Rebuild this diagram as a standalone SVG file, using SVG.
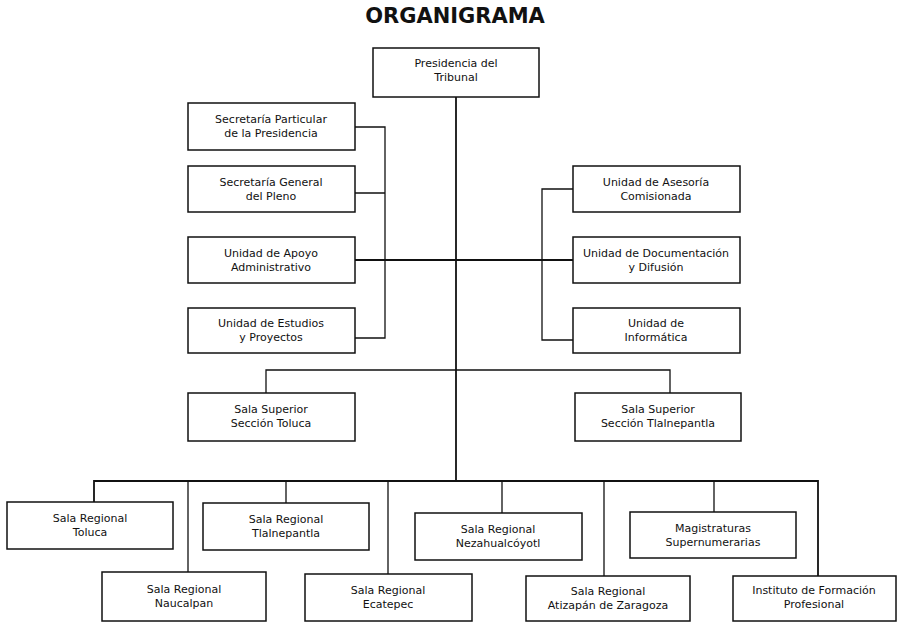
<svg xmlns="http://www.w3.org/2000/svg" width="900" height="623" viewBox="0 0 900 623">
<style>
.box{fill:#fff;stroke:#111;stroke-width:1.5}
.t{font-family:"DejaVu Sans","Liberation Sans",sans-serif;font-size:11px;fill:#111;text-anchor:middle}
.title{font-family:"DejaVu Sans","Liberation Sans",sans-serif;font-size:21px;font-weight:bold;fill:#111;text-anchor:middle}
.ln{fill:none;stroke:#111;stroke-width:1.3}
.main{fill:none;stroke:#111;stroke-width:1.8}
</style>
<rect width="900" height="623" fill="#fff"/>
<text class="title" x="455" y="23">ORGANIGRAMA</text>
<g id="connectors">
<path class="main" d="M456 97V482"/>
<path class="ln" d="M355 127H385V338H355M355 193H385"/>
<path class="main" d="M355 260H573"/>
<path class="ln" d="M573 189H542V340H573"/>
<path class="ln" d="M266 393V370H670V393"/>
<path class="main" d="M94 502V481H818V576"/>
<path class="ln" d="M188 481V572M286 481V503M388 481V574M502 481V513M604 481V576M714 481V512"/>
</g>
<g id="presidencia"><rect class="box" x="373" y="48" width="166" height="49"/><text class="t" x="456" y="67">Presidencia del</text><text class="t" x="456" y="81">Tribunal</text></g>
<g id="sec-particular"><rect class="box" x="188" y="103" width="167" height="47"/><text class="t" x="271" y="123">Secretaría Particular</text><text class="t" x="271" y="137">de la Presidencia</text></g>
<g id="sec-general"><rect class="box" x="188" y="166" width="167" height="46"/><text class="t" x="271" y="186">Secretaría General</text><text class="t" x="271" y="200">del Pleno</text></g>
<g id="apoyo"><rect class="box" x="188" y="237" width="167" height="46"/><text class="t" x="271" y="257">Unidad de  Apoyo</text><text class="t" x="271" y="271">Administrativo</text></g>
<g id="estudios"><rect class="box" x="188" y="308" width="167" height="45"/><text class="t" x="271" y="327">Unidad de Estudios</text><text class="t" x="271" y="341">y Proyectos</text></g>
<g id="asesoria"><rect class="box" x="573" y="166" width="167" height="46"/><text class="t" x="656" y="186">Unidad de Asesoría</text><text class="t" x="656" y="200">Comisionada</text></g>
<g id="documentacion"><rect class="box" x="573" y="237" width="167" height="46"/><text class="t" x="656" y="257">Unidad de Documentación</text><text class="t" x="656" y="271">y Difusión</text></g>
<g id="informatica"><rect class="box" x="573" y="308" width="167" height="45"/><text class="t" x="656" y="327">Unidad de</text><text class="t" x="656" y="341">Informática</text></g>
<g id="ss-toluca"><rect class="box" x="188" y="393" width="167" height="48"/><text class="t" x="271" y="413">Sala Superior</text><text class="t" x="271" y="427">Sección Toluca</text></g>
<g id="ss-tlalnepantla"><rect class="box" x="575" y="393" width="166" height="48"/><text class="t" x="658" y="413">Sala Superior</text><text class="t" x="658" y="427">Sección Tlalnepantla</text></g>
<g id="sr-toluca"><rect class="box" x="7" y="502" width="166" height="47"/><text class="t" x="90" y="522">Sala Regional</text><text class="t" x="90" y="536">Toluca</text></g>
<g id="sr-tlalnepantla"><rect class="box" x="203" y="503" width="166" height="47"/><text class="t" x="286" y="523">Sala Regional</text><text class="t" x="286" y="537">Tlalnepantla</text></g>
<g id="sr-neza"><rect class="box" x="415" y="513" width="167" height="47"/><text class="t" x="498" y="533">Sala Regional</text><text class="t" x="498" y="547">Nezahualcóyotl</text></g>
<g id="magistraturas"><rect class="box" x="630" y="512" width="166" height="46"/><text class="t" x="713" y="532">Magistraturas</text><text class="t" x="713" y="546">Supernumerarias</text></g>
<g id="sr-naucalpan"><rect class="box" x="102" y="572" width="164" height="49"/><text class="t" x="184" y="593">Sala Regional</text><text class="t" x="184" y="607">Naucalpan</text></g>
<g id="sr-ecatepec"><rect class="box" x="305" y="574" width="167" height="47"/><text class="t" x="388" y="594">Sala Regional</text><text class="t" x="388" y="608">Ecatepec</text></g>
<g id="sr-atizapan"><rect class="box" x="526" y="576" width="164" height="45"/><text class="t" x="608" y="595">Sala Regional</text><text class="t" x="608" y="609">Atizapán de Zaragoza</text></g>
<g id="instituto"><rect class="box" x="733" y="576" width="163" height="45"/><text class="t" x="814" y="594">Instituto de Formación</text><text class="t" x="814" y="608">Profesional</text></g>
</svg>
